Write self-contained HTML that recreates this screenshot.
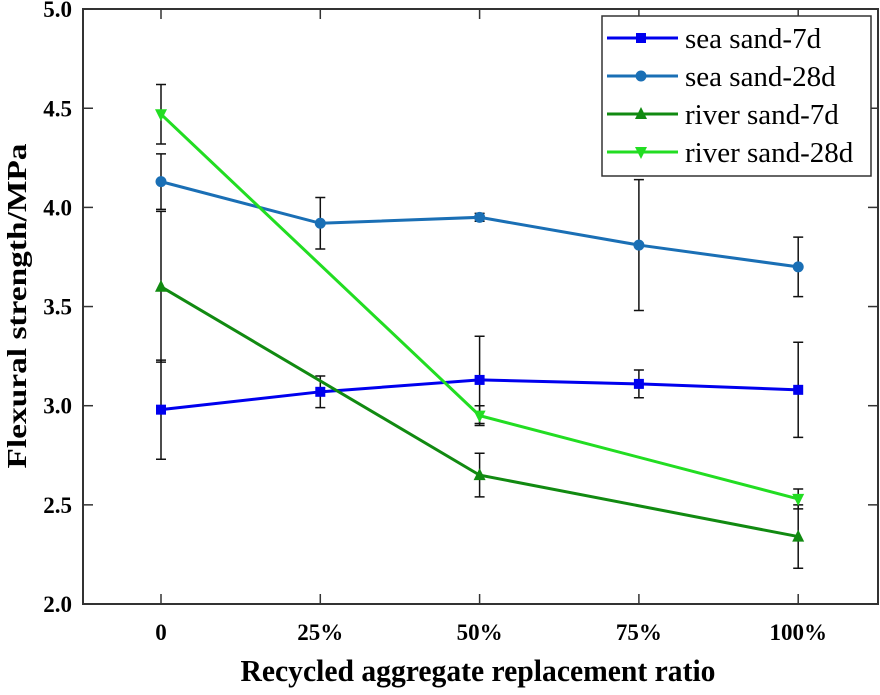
<!DOCTYPE html>
<html><head><meta charset="utf-8"><style>
body{margin:0;background:#fff}
text{font-family:"Liberation Serif",serif;font-weight:bold}
</style></head><body>
<svg id="chart" width="880" height="690" xmlns="http://www.w3.org/2000/svg">
<rect x="83" y="9" width="795" height="595" fill="none" stroke="#333" stroke-width="2"/>
<g id="axes"></g><g id="series"></g>
<text x="478" y="681" font-size="31" text-anchor="middle" textLength="475" lengthAdjust="spacingAndGlyphs">Recycled aggregate replacement ratio</text>
<text transform="translate(26,306) rotate(-90)" font-size="27" text-anchor="middle" textLength="325" lengthAdjust="spacingAndGlyphs">Flexural strength/MPa</text>
<g>
<rect x="602" y="16" width="269" height="160" fill="#fff" stroke="#333" stroke-width="1.5"/>
</g><g id="legend"></g>
</svg>
<script>
const categories=["0","25%","50%","75%","100%"];
const yTicks=[2.0,2.5,3.0,3.5,4.0,4.5,5.0];
const seriesNames=["sea sand-7d","sea sand-28d","river sand-7d","river sand-28d"];
const seaSand7Idx=[0,1,2,3,4];
const seaSand7=[2.98,3.07,3.13,3.11,3.08];
const seaSand7Err=[0.25,0.08,0.22,0.07,0.24];
const seaSand28Idx=[0,1,2,3,4];
const seaSand28=[4.13,3.92,3.95,3.81,3.70];
const seaSand28Err=[0.14,0.13,0.02,0.33,0.15];
const riverSand7Idx=[0,2,4];
const riverSand7=[3.60,2.65,2.34];
const riverSand7Err=[0.38,0.11,0.16];
const riverSand28Idx=[0,2,4];
const riverSand28=[4.47,2.95,2.53];
const riverSand28Err=[0.15,0.05,0.05];
const NS="http://www.w3.org/2000/svg";
const X=i=>161+i*159.3;
const Y=v=>604-(v-2)*198.3;
function mk(tag,attrs,parent){const e=document.createElementNS(NS,tag);for(const k in attrs)e.setAttribute(k,attrs[k]);parent.appendChild(e);return e;}
const ax=document.getElementById('axes');
categories.forEach((c,i)=>{
 let t=mk('line',{x1:X(i),x2:X(i),y1:604,y2:594,stroke:'#333','stroke-width':1.5},ax);
 
 
 let t2=mk('line',{x1:X(i),x2:X(i),y1:9,y2:19,stroke:'#333','stroke-width':1.5},ax);
 
 
 let l=mk('text',{x:X(i),y:640,'font-size':23,'text-anchor':'middle'},ax);l.textContent=c;
 
 
});
yTicks.forEach(v=>{
 let t=mk('line',{x1:83,x2:93,y1:Y(v),y2:Y(v),stroke:'#333','stroke-width':1.5},ax);
 
 
 let t2=mk('line',{x1:868,x2:878,y1:Y(v),y2:Y(v),stroke:'#333','stroke-width':1.5},ax);
 
 
 let l=mk('text',{x:72,y:Y(v)+8,'font-size':23,'text-anchor':'end'},ax);l.textContent=v.toFixed(1);
 
 
});
const colors=["#0000ee","#1a6fb5","#118a11","#22dd22"];
const markers=["square","circle","up","down"];
const all=[[seaSand7Idx,seaSand7,seaSand7Err],[seaSand28Idx,seaSand28,seaSand28Err],[riverSand7Idx,riverSand7,riverSand7Err],[riverSand28Idx,riverSand28,riverSand28Err]];
function marker(type,x,y,c,g){
 let e;
 if(type==='square')e=mk('rect',{x:x-5,y:y-5,width:10,height:10,fill:c},g);
 else if(type==='circle')e=mk('circle',{cx:x,cy:y,r:5.5,fill:c},g);
 else if(type==='up')e=mk('polygon',{points:`${x},${y-7} ${x-6},${y+5} ${x+6},${y+5}`,fill:c},g);
 else e=mk('polygon',{points:`${x},${y+7} ${x-6},${y-5} ${x+6},${y-5}`,fill:c},g);
 return e;
}
const sg=document.getElementById('series');
all.forEach(([idx,vals,errs],s)=>{
 const g=mk('g',{},sg);
 
 
 idx.forEach((i,k)=>{
  const x=X(i),lo=Y(vals[k]-errs[k]),hi=Y(vals[k]+errs[k]);
  const eb=mk('path',{d:`M${x},${lo}V${hi}M${x-5},${lo}H${x+5}M${x-5},${hi}H${x+5}`,stroke:'#111','stroke-width':1.5,fill:'none'},g);
  
  
 });
 const ln=mk('polyline',{points:idx.map((i,k)=>X(i)+','+Y(vals[k])).join(' '),fill:'none',stroke:colors[s],'stroke-width':3},g);
 
 
 idx.forEach((i,k)=>{
  const m=marker(markers[s],X(i),Y(vals[k]),colors[s],g);
  
  
 });
});
const lg=document.getElementById('legend');
seriesNames.forEach((n,s)=>{
 const y=38+s*38;
 const g=mk('g',{},lg);
 
 
 mk('line',{x1:607,x2:678,y1:y,y2:y,stroke:colors[s],'stroke-width':3},g);
 marker(markers[s],641,y,colors[s],g);
 const t=mk('text',{x:685,y:y+10,'font-size':29},g);
 t.setAttribute('style','font-weight:normal');
 t.textContent=n;
});
</script>
</body></html>
